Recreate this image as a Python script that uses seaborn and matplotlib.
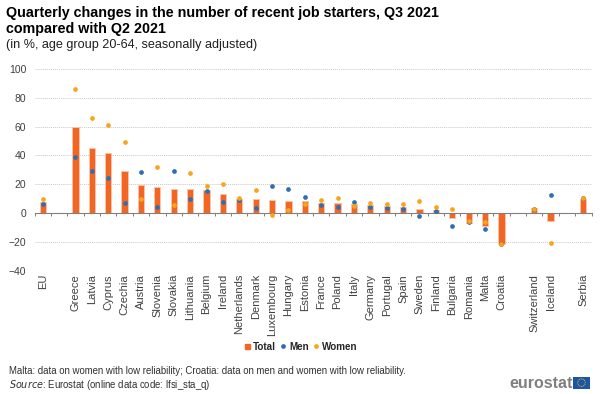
import matplotlib
matplotlib.use("Agg")
import matplotlib.pyplot as plt
import matplotlib.patches as mpatches
from matplotlib.lines import Line2D
import numpy as np
import pandas as pd
import seaborn as sns

nan = float("nan")

# blanks in the names are the gaps between the country groups
countries = ["EU", " ", "Greece", "Latvia", "Cyprus", "Czechia", "Austria", "Slovenia", "Slovakia",
             "Lithuania", "Belgium", "Ireland", "Netherlands", "Denmark", "Luxembourg", "Hungary",
             "Estonia", "France", "Poland", "Italy", "Germany", "Portugal", "Spain", "Sweden",
             "Finland", "Bulgaria", "Romania", "Malta", "Croatia", "  ", "Switzerland", "Iceland",
             "   ", "Serbia"]
total = [7.5, nan, 60, 45, 41.5, 29, 19.5, 18, 17, 17, 16, 13.5, 9.5, 9.5, 9, 8.5,
         8.5, 7, 7, 6, 5.5, 4.8, 4.2, 2.8, 2, -3.2, -6.7, -9.3, -21.5, nan, 3.5, -5.3, nan, 10]
men = [6, nan, 39, 29, 24, 7, 28.5, 4, 29.5, 10, 15, 7.5, 8.8, 3.5, 19, 16.5,
       11.3, 5.5, 3.9, 7.6, 4.4, 3.5, 3, -2, 1.2, -9, -6, -11.1, -21.5, nan, 3, 12.7, nan, 10.4]
women = [9.7, nan, 86, 66, 61, 49, 10, 31.7, 5.5, 27.5, 18.5, 20, 10.6, 16, -1.6, 1.8,
         6, 8.8, 10.6, 5, 7.2, 6.5, 6.5, 8.6, 3.9, 3, -5.5, -6, -21.8, nan, 2.5, -21, nan, 10.6]
y_ticks = [-40, -20, 0, 20, 40, 60, 80, 100]

ORANGE = "#f26522"
BLUE = "#2f6db5"
YELLOW = "#faa519"

sns.set_style("white")
plt.rcParams["font.family"] = ["Liberation Sans", "DejaVu Sans"]

df = pd.DataFrame({"country": countries, "Total": total, "Men": men, "Women": women})

fig = plt.figure(figsize=(6, 3.94), dpi=100)
ax = fig.add_axes([34.5 / 600, 1 - 270.6 / 394, 557 / 600, 201.6 / 394])

sns.barplot(data=df, x="country", y="Total", order=countries, color=ORANGE, width=0.38,
            saturation=1, edgecolor="#f9c4a8", linewidth=0.7, ax=ax)
sns.stripplot(data=df, x="country", y="Men", order=countries, color=BLUE, jitter=False, size=3.4, ax=ax, zorder=4)
sns.stripplot(data=df, x="country", y="Women", order=countries, color=YELLOW, jitter=False, size=3.4, ax=ax, zorder=5)

ax.set_xlim(-0.5, len(countries) - 0.5)
ax.set_ylim(-40, 100)
ax.set_yticks(y_ticks)
ax.set_xlabel("")
ax.set_ylabel("")
ax.grid(axis="y", color="#c8c8c8", linestyle=(0, (1, 1)), linewidth=0.7)
ax.set_axisbelow(True)

for side in ["top", "right", "left"]:
    ax.spines[side].set_visible(False)
ax.spines["bottom"].set_position(("data", 0))
ax.spines["bottom"].set_color("#808080")
ax.spines["bottom"].set_linewidth(0.8)
ax.spines["bottom"].set_zorder(3)

# tick marks between the categories, names pushed below the plot
ax.set_xticks(np.arange(-0.5, len(countries)), minor=True)
ax.tick_params(axis="x", which="minor", length=2.5, width=0.7, color="#808080", bottom=True)
ax.tick_params(axis="x", which="major", length=0, pad=44, labelsize=8, labelcolor="#404040", rotation=90)
ax.tick_params(axis="y", length=0, pad=6, labelsize=7.5, labelcolor="#404040")

fig.text(6.5 / 600, 1 - 13 / 394, "Quarterly changes in the number of recent job starters, Q3 2021",
         fontsize=10.25, fontweight="bold", color="black", va="center")
fig.text(6.5 / 600, 1 - 29 / 394, "compared with Q2 2021", fontsize=10.25, fontweight="bold", color="black", va="center")
fig.text(6.5 / 600, 1 - 45 / 394, "(in %, age group 20-64, seasonally adjusted)", fontsize=9.1, color="#202020", va="center")

handles = [
    Line2D([], [], marker="s", linestyle="", color=ORANGE, markersize=3.6),
    Line2D([], [], marker="o", linestyle="", color=BLUE, markersize=2.4),
    Line2D([], [], marker="o", linestyle="", color=YELLOW, markersize=2.4),
]
fig.legend(handles, ["Total", "Men", "Women"], loc="center", bbox_to_anchor=(299.5 / 600, 1 - 346.5 / 394),
           ncol=3, frameon=False, handletextpad=0.0, columnspacing=0.15, handlelength=1.2,
           prop={"size": 7.1, "weight": "bold"})

fig.text(9 / 600, 1 - 371 / 394, "Malta: data on women with low reliability; Croatia: data on men and women with low reliability.",
         fontsize=6.93, color="#303030", va="center")
fig.text(9 / 600, 1 - 385 / 394, r"$\mathit{Source}$: Eurostat (online data code: lfsi_sta_q)",
         fontsize=6.93, color="#303030", va="center", math_fontfamily="custom")

# logo
fig.text(509.5 / 600, 1 - 383 / 394, "eurostat", fontsize=11.5, fontweight="bold", color="#7f7f7f", va="center")
fig.add_artist(mpatches.Rectangle((573 / 600, 1 - 388.5 / 394), 17 / 600, 11.5 / 394, transform=fig.transFigure,
                                  facecolor="#1f55a5", edgecolor="none"))
fig.add_artist(mpatches.Ellipse((581.5 / 600, 1 - 382.7 / 394), 7.5 / 600, 7.5 / 394, transform=fig.transFigure,
                                facecolor="none", edgecolor="#e8c520", linewidth=0.7, linestyle=(0, (1, 1))))

fig.savefig("out.png", dpi=100)
